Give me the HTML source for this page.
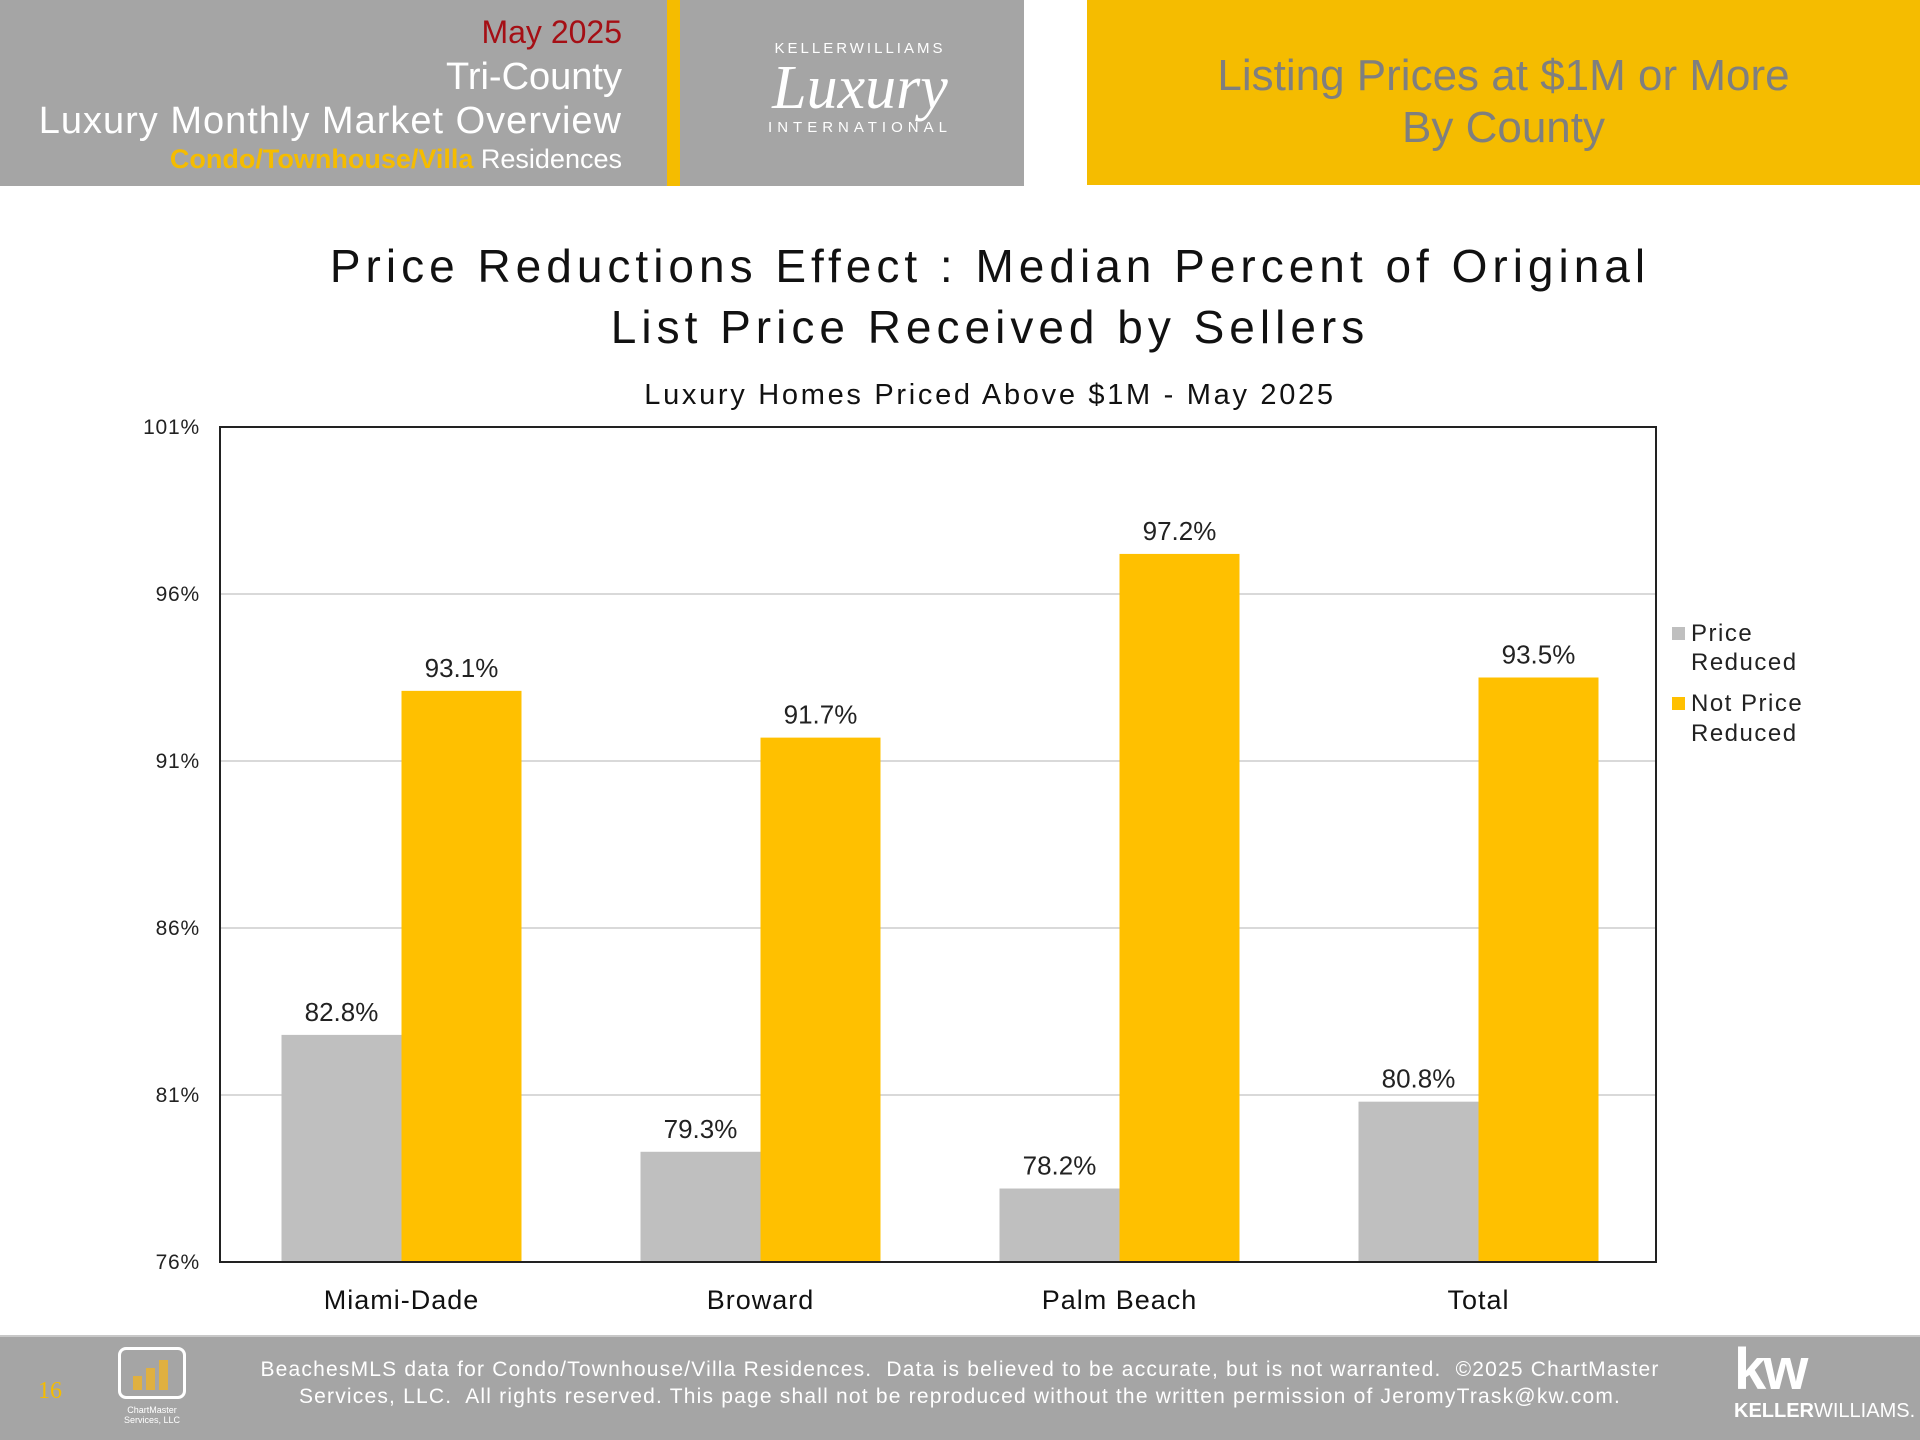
<!DOCTYPE html>
<html><head><meta charset="utf-8">
<style>
html,body{margin:0;padding:0;width:1920px;height:1440px;overflow:hidden;background:#fff;font-family:"Liberation Sans",sans-serif;}
.abs{position:absolute;}
</style></head>
<body>
<div class="abs" style="left:0;top:0;width:1024px;height:186px;background:#a5a5a5;"></div>
<div class="abs" style="left:667px;top:0;width:13px;height:186px;background:#f5bc00;"></div>
<div class="abs" style="right:1298px;top:14px;font-size:32px;color:#a50f15;white-space:nowrap;">May 2025</div>
<div class="abs" style="right:1298px;top:56px;font-size:38px;color:#fff;white-space:nowrap;">Tri-County</div>
<div class="abs" style="right:1298px;top:100px;font-size:38px;color:#fff;white-space:nowrap;letter-spacing:1px;">Luxury Monthly Market Overview</div>
<div class="abs" style="right:1298px;top:144px;font-size:27px;color:#fff;white-space:nowrap;"><b style="color:#f5bc00">Condo/Townhouse/Villa</b> Residences</div>
<div class="abs" style="left:700px;top:40px;width:320px;height:110px;color:#fff;text-align:center;">
  <div style="font-size:15px;letter-spacing:3px;">KELLERWILLIAMS</div>
  <div style="font-family:'Liberation Serif',serif;font-style:italic;font-size:62px;line-height:62px;">Luxury</div>
  <div style="font-size:15px;letter-spacing:5px;">INTERNATIONAL</div>
</div>
<div class="abs" style="left:1087px;top:0;width:833px;height:185px;background:#f5bc00;"></div>
<div class="abs" style="left:1087px;top:50px;width:833px;text-align:center;font-size:44px;line-height:52px;color:#7f7f7f;">Listing Prices at $1M or More<br>By County</div>

<svg class="abs" style="left:0;top:0" width="1920" height="1440">
  <text x="990" y="282" text-anchor="middle" font-size="46" fill="#111" letter-spacing="5">Price Reductions Effect : Median Percent of Original</text>
  <text x="990" y="343" text-anchor="middle" font-size="46" fill="#111" letter-spacing="5">List Price Received by Sellers</text>
  <text x="990" y="404" text-anchor="middle" font-size="29" fill="#111" letter-spacing="2.7">Luxury Homes Priced Above $1M - May 2025</text>
  <g id="plot"></g>
  <g letter-spacing="1.5">
    <rect x="1672" y="627" width="13" height="13" fill="#bfbfbf"/>
    <text x="1691" y="641" font-size="24" fill="#222"><tspan x="1691">Price</tspan><tspan x="1691" dy="29">Reduced</tspan></text>
    <rect x="1672" y="697" width="13" height="13" fill="#ffc000"/>
    <text x="1691" y="711" font-size="24" fill="#222"><tspan x="1691">Not Price</tspan><tspan x="1691" dy="30">Reduced</tspan></text>
  </g>
</svg>

<div class="abs" style="left:0;top:1335px;width:1920px;height:105px;background:#a5a5a5;border-top:2px solid #c8c8c8;box-sizing:border-box;"></div>
<div class="abs" style="left:38px;top:1378px;font-family:'Liberation Serif',serif;font-size:24px;color:#f5bc00;">16</div>
<div class="abs" style="left:118px;top:1347px;width:68px;height:52px;border:3px solid #fff;border-radius:8px;box-sizing:border-box;">
  <div style="position:absolute;left:12px;bottom:6px;width:9px;height:14px;background:#e0b040"></div>
  <div style="position:absolute;left:25px;bottom:6px;width:9px;height:22px;background:#e0b040"></div>
  <div style="position:absolute;left:38px;bottom:6px;width:9px;height:30px;background:#e0b040"></div>
</div>
<div class="abs" style="left:112px;top:1405px;width:80px;text-align:center;font-size:9px;color:#fff;line-height:10px;">ChartMaster<br>Services, LLC</div>
<div class="abs" style="left:200px;top:1356px;width:1520px;text-align:center;font-size:21px;line-height:27px;color:#fff;letter-spacing:1.2px;">BeachesMLS data for Condo/Townhouse/Villa Residences.&nbsp; Data is believed to be accurate, but is not warranted.&nbsp; ©2025 ChartMaster<br>Services, LLC.&nbsp; All rights reserved. This page shall not be reproduced without the written permission of JeromyTrask@kw.com.</div>
<div class="abs" style="left:1734px;top:1340px;color:#fff;">
  <div style="font-size:58px;font-weight:bold;line-height:60px;letter-spacing:-3px;">kw</div>
  <div style="font-size:20px;line-height:22px;"><b>KELLER</b>WILLIAMS.</div>
</div>

<script>
const categories = ["Miami-Dade","Broward","Palm Beach","Total"];
const priceReduced = [82.8,79.3,78.2,80.8];
const notPriceReduced = [93.1,91.7,97.2,93.5];
const yTicks = [76,81,86,91,96,101];

const NS="http://www.w3.org/2000/svg";
const X0=220,X1=1656,Y0=427,Y1=1262,YMIN=76,YMAX=101;
const y=v=>Y1-(v-YMIN)/(YMAX-YMIN)*(Y1-Y0);
const groupW=(X1-X0)/categories.length;
const xc=i=>X0+groupW*(i+0.5)+2;
const BW=120;
const g=document.getElementById('plot');
function mk(tag,attrs,text){const e=document.createElementNS(NS,tag);for(const k in attrs)e.setAttribute(k,attrs[k]);if(text!==undefined)e.textContent=text;g.appendChild(e);return e;}

yTicks.forEach(t=>{
  if(t!==YMIN&&t!==YMAX){const l=mk('line',{x1:X0,x2:X1,y1:y(t),y2:y(t),stroke:'#d9d9d9','stroke-width':2});
  
  }
  const tx=mk('text',{x:200,y:y(t)+7,'text-anchor':'end','font-size':21,fill:'#222','letter-spacing':0.8},t+'%');
  
  
});
categories.forEach((c,i)=>{
  const cx=xc(i);
  const b1=mk('rect',{x:cx-BW,y:y(priceReduced[i]),width:BW,height:Y1-y(priceReduced[i]),fill:'#bfbfbf'});
  
  
  const b2=mk('rect',{x:cx,y:y(notPriceReduced[i]),width:BW,height:Y1-y(notPriceReduced[i]),fill:'#ffc000'});
  
  
  const l1=mk('text',{x:cx-BW/2,y:y(priceReduced[i])-14,'text-anchor':'middle','font-size':26,fill:'#222'},priceReduced[i].toFixed(1)+'%');
  
  
  const l2=mk('text',{x:cx+BW/2,y:y(notPriceReduced[i])-14,'text-anchor':'middle','font-size':26,fill:'#222'},notPriceReduced[i].toFixed(1)+'%');
  
  
  const cl=mk('text',{x:cx,y:1309,'text-anchor':'middle','font-size':27,fill:'#111','letter-spacing':1},c);
  
  
});
const frame=mk('rect',{x:X0,y:Y0,width:X1-X0,height:Y1-Y0,fill:'none',stroke:'#222','stroke-width':2});


</script>
</body></html>
